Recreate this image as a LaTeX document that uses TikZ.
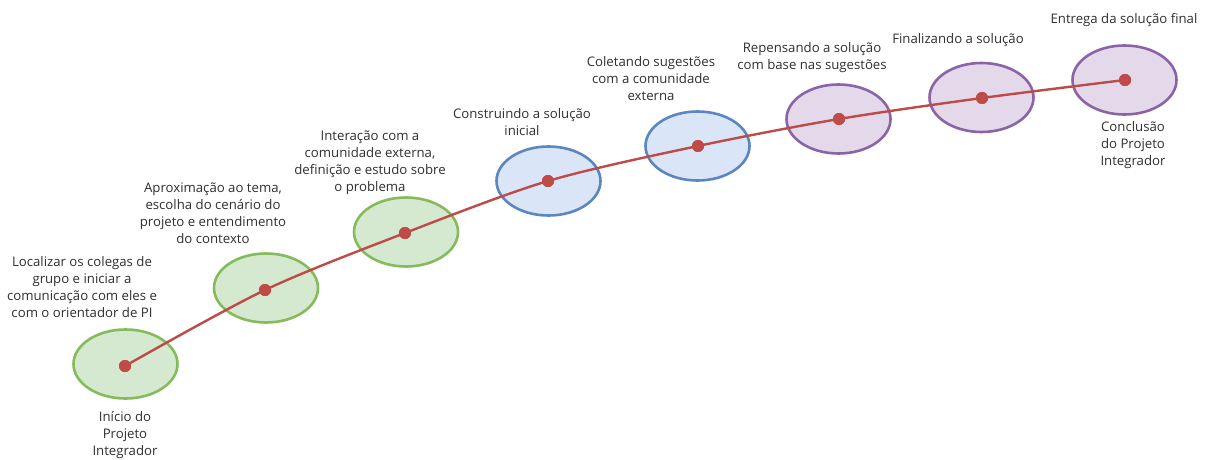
\documentclass[tikz,border=0pt]{standalone}
\usepackage{fontspec}
\setmainfont{Open Sans}
\usetikzlibrary{shapes.geometric}
\definecolor{gfill}{HTML}{D5E8D0}
\definecolor{gline}{HTML}{86BB5C}
\definecolor{bfill}{HTML}{DAE6F7}
\definecolor{bline}{HTML}{5B86C0}
\definecolor{pfill}{HTML}{E3D9EA}
\definecolor{pline}{HTML}{8A64A6}
\definecolor{rline}{HTML}{BE4B48}
\definecolor{txt}{HTML}{303030}
\tikzset{
  stage/.style={ellipse, draw, line width=2.6pt, minimum width=104pt, minimum height=69pt, inner sep=0pt},
  gst/.style={stage, fill=gfill, draw=gline},
  bst/.style={stage, fill=bfill, draw=bline},
  pst/.style={stage, fill=pfill, draw=pline},
  dot/.style={circle, fill=rline, minimum size=12pt, inner sep=0pt},
  lbl/.style={align=center, text=txt, font=\fontsize{13.2}{17}\selectfont, inner sep=0pt},
  path/.style={draw=rline, line width=2.4pt}
}
\begin{document}
\begin{tikzpicture}[x=1pt,y=-1pt]
\useasboundingbox[fill=white] (0,0) rectangle (1208,460);
% ellipses
\node[gst] (e1) at (125.5,364) {};
\node[gst] (e2) at (266,288) {};
\node[gst] (e3) at (406,232) {};
\node[bst] (e4) at (548.5,181) {};
\node[bst] (e5) at (697.5,146) {};
\node[pst] (e6) at (838.5,119) {};
\node[pst] (e7) at (981.5,97.5) {};
\node[pst] (e8) at (1124.5,80) {};
% dots
\node[dot] (d1) at (125,366) {};
\node[dot] (d2) at (265,290) {};
\node[dot] (d3) at (405,233) {};
\node[dot] (d4) at (548,181) {};
\node[dot] (d5) at (698,146) {};
\node[dot] (d6) at (839,119) {};
\node[dot] (d7) at (982,98) {};
\node[dot] (d8) at (1125,80) {};
% path
\draw[path] plot[smooth, tension=0.5] coordinates {(d1.center) (d2.center) (d3.center) (d4.center) (d5.center) (d6.center) (d7.center) (d8.center)};
\foreach \i in {1,...,8} {\node[dot] at (d\i) {};}
% labels
\node[lbl, anchor=north] (l1) at (82,256) {Localizar os colegas de\\grupo e iniciar a\\comunicação com eles e\\com o orientador de PI};
\node[lbl, anchor=north] (l2) at (125,411) {Início do\\Projeto\\Integrador};
\node[lbl, anchor=north] (l3) at (213,183) {Aproximação ao tema,\\escolha do cenário do\\projeto e entendimento\\do contexto};
\node[lbl, anchor=north] (l4) at (370,131) {Interação com a\\comunidade externa,\\definição e estudo sobre\\o problema};
\node[lbl, anchor=north] (l5) at (522,108) {Construindo a solução\\inicial};
\node[lbl, anchor=north] (l6) at (651,56) {Coletando sugestões\\com a comunidade\\externa};
\node[lbl, anchor=north] (l7) at (812,42) {Repensando a solução\\com base nas sugestões};
\node[lbl, anchor=north] (l8) at (958,33) {Finalizando a solução};
\node[lbl, anchor=north] (l9) at (1124,13) {Entrega da solução final};
\node[lbl, anchor=north] (l10) at (1133,121) {Conclusão\\do Projeto\\Integrador};
\end{tikzpicture}
\end{document}
